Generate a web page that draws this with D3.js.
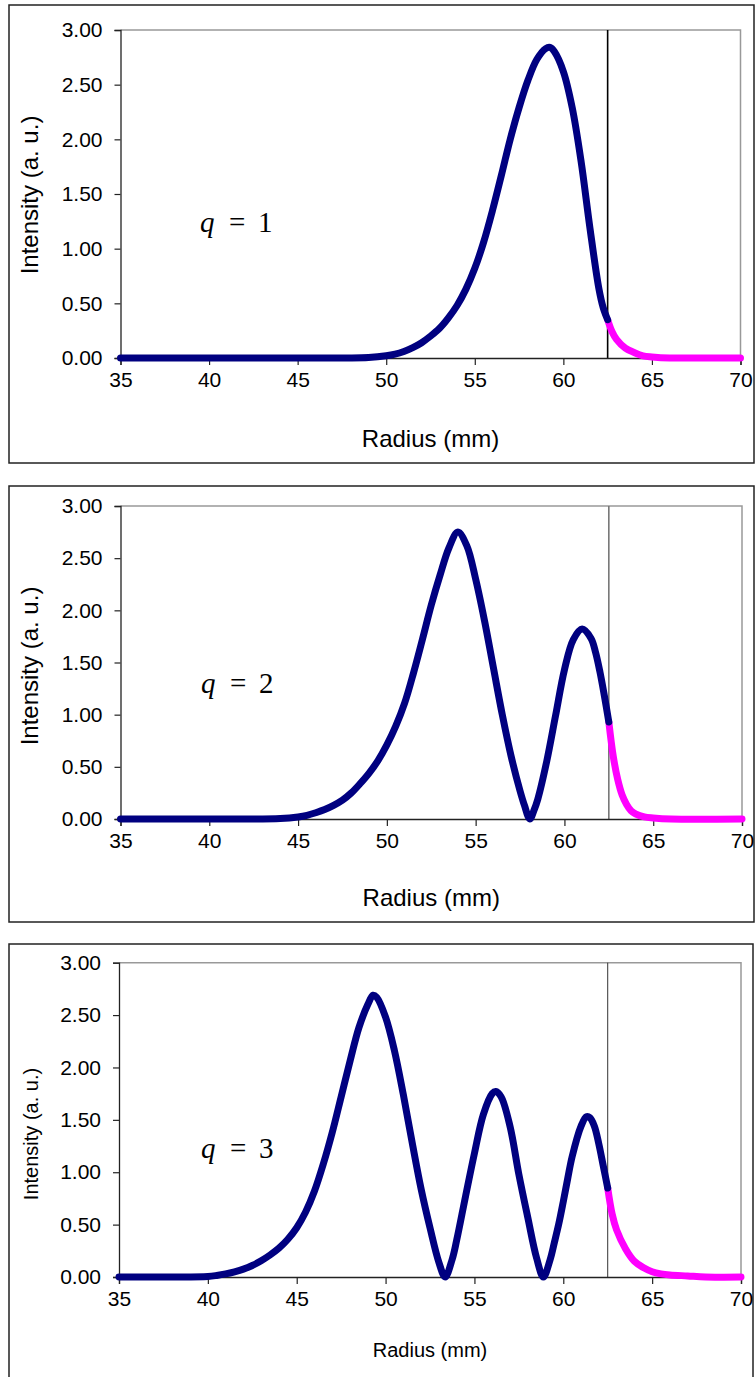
<!DOCTYPE html>
<html>
<head>
<meta charset="utf-8">
<script src="https://cdn.jsdelivr.net/npm/d3@7"></script>
<style>
  html, body { margin: 0; padding: 0; background: #fff; }
  svg { display: block; }
</style>
</head>
<body>
<svg id="chart" width="756" height="1377"></svg>
<script>
// ---------------- DATA ----------------
const xTicks = [35, 40, 45, 50, 55, 60, 65, 70];
const yTicks = [0, 0.5, 1, 1.5, 2, 2.5, 3];
const cutoffRadius = 62.5;
const qLabels = ["1", "2", "3"];

// q = 1
const radius1 = [35, 40, 45, 49, 50, 50.5, 51, 51.5, 52, 52.5, 53, 53.5, 54, 54.5, 55, 55.5, 56, 56.5, 57, 57.5, 58, 58.5, 59, 59.25, 59.5, 60, 60.5, 61, 61.5, 62, 62.25, 62.5];
const intensity1 = [0, 0, 0, 0.005, 0.02, 0.035, 0.06, 0.095, 0.14, 0.20, 0.27, 0.365, 0.48, 0.63, 0.82, 1.06, 1.35, 1.67, 2.00, 2.29, 2.54, 2.73, 2.83, 2.84, 2.80, 2.62, 2.29, 1.80, 1.19, 0.64, 0.46, 0.35];
const tailRadius1 = [62.5, 62.75, 63, 63.5, 64, 64.5, 65, 66, 67, 70];
const tailIntensity1 = [0.35, 0.24, 0.17, 0.09, 0.05, 0.02, 0.01, 0, 0, 0];

// q = 2
const radius2 = [35, 40, 44, 45, 45.5, 46, 46.5, 47, 47.5, 48, 48.5, 49, 49.5, 50, 50.5, 51, 51.5, 52, 52.5, 53, 53.5, 54, 54.5, 55, 55.5, 56, 56.5, 57, 57.5, 57.75, 58.05, 58.3, 58.5, 59, 59.5, 60, 60.5, 61, 61.5, 61.75, 62, 62.25, 62.5];
const intensity2 = [0, 0, 0.005, 0.02, 0.035, 0.06, 0.09, 0.13, 0.18, 0.25, 0.34, 0.44, 0.56, 0.71, 0.89, 1.11, 1.40, 1.72, 2.05, 2.34, 2.60, 2.75, 2.62, 2.30, 1.90, 1.45, 1.00, 0.60, 0.27, 0.13, 0.00, 0.09, 0.19, 0.55, 0.99, 1.43, 1.72, 1.82, 1.73, 1.60, 1.41, 1.18, 0.93];
const tailRadius2 = [62.5, 62.75, 63, 63.25, 63.5, 63.75, 64, 64.5, 65, 66, 70];
const tailIntensity2 = [0.93, 0.60, 0.38, 0.23, 0.14, 0.08, 0.05, 0.02, 0.01, 0, 0];

// q = 3
const radius3 = [35, 38, 40, 40.5, 41, 41.5, 42, 42.5, 43, 43.5, 44, 44.5, 45, 45.5, 46, 46.5, 47, 47.5, 48, 48.5, 49, 49.3, 49.5, 50, 50.5, 51, 51.5, 52, 52.5, 53, 53.35, 53.75, 54, 54.5, 55, 55.5, 56, 56.2, 56.5, 57, 57.5, 58, 58.5, 58.88, 59.25, 59.5, 59.75, 60, 60.25, 60.5, 61, 61.3, 61.5, 61.75, 62, 62.25, 62.5];
const intensity3 = [0, 0, 0.005, 0.015, 0.03, 0.05, 0.075, 0.11, 0.155, 0.21, 0.275, 0.36, 0.47, 0.62, 0.82, 1.08, 1.38, 1.72, 2.06, 2.38, 2.60, 2.69, 2.67, 2.48, 2.16, 1.74, 1.28, 0.84, 0.47, 0.14, 0.00, 0.17, 0.35, 0.77, 1.18, 1.55, 1.75, 1.77, 1.72, 1.44, 0.98, 0.57, 0.18, 0.00, 0.16, 0.33, 0.51, 0.72, 0.94, 1.15, 1.44, 1.53, 1.52, 1.44, 1.27, 1.06, 0.85];
const tailRadius3 = [62.5, 62.75, 63, 63.5, 64, 64.5, 65, 65.5, 66, 67, 68, 70];
const tailIntensity3 = [0.85, 0.60, 0.45, 0.27, 0.15, 0.09, 0.05, 0.03, 0.02, 0.01, 0, 0];

// ---------------- LAYOUT ----------------
const panels = [
  { box: [9, 5, 754, 463], l: 120.5, r: 740.5, t: 30, b: 358,
    radius: radius1, intensity: intensity1, tailR: tailRadius1, tailI: tailIntensity1,
    cutColor: "#000", cutWidth: 1.6, tickSize: 21, titleSize: 24, yTitleSize: 24,
    xTitleY: 447, yTitleX: 32, yTitleY: 195, qX: 200, qY: 232 },
  { box: [9, 486, 754, 922], l: 120.5, r: 742, t: 506, b: 819,
    radius: radius2, intensity: intensity2, tailR: tailRadius2, tailI: tailIntensity2,
    cutColor: "#777", cutWidth: 1.6, tickSize: 21, titleSize: 24, yTitleSize: 24,
    xTitleY: 906, yTitleX: 32, yTitleY: 666, qX: 201, qY: 693 },
  { box: [9, 944, 753, 1382], l: 119, r: 741, t: 962.7, b: 1277,
    radius: radius3, intensity: intensity3, tailR: tailRadius3, tailI: tailIntensity3,
    cutColor: "#333", cutWidth: 1, tickSize: 21, titleSize: 20, yTitleSize: 20,
    xTitleY: 1357, yTitleX: 33, yTitleY: 1134, qX: 201, qY: 1158 }
];

const svg = d3.select("#chart");
const fmt = d3.format(".2f");
const sans = "Liberation Sans, Arial, sans-serif";
const serif = "Liberation Serif, Times New Roman, serif";

panels.forEach((p, idx) => {
  const g = svg.append("g");
  // outer border
  g.append("rect")
    .attr("x", p.box[0]).attr("y", p.box[1])
    .attr("width", p.box[2] - p.box[0]).attr("height", p.box[3] - p.box[1])
    .attr("fill", "#fff").attr("stroke", "#222").attr("stroke-width", 1.5);

  const x = d3.scaleLinear().domain([35, 70]).range([p.l, p.r]);
  const y = d3.scaleLinear().domain([0, 3]).range([p.b, p.t]);

  // top & right plot frame (gray)
  g.append("path")
    .attr("d", `M${p.l},${p.t}H${p.r}V${p.b}`)
    .attr("fill", "none").attr("stroke", "#999").attr("stroke-width", 1.5);

  // cutoff vertical line
  g.append("line")
    .attr("x1", x(cutoffRadius)).attr("x2", x(cutoffRadius))
    .attr("y1", y(3)).attr("y2", y(0))
    .attr("stroke", p.cutColor).attr("stroke-width", p.cutWidth);

  // axes
  const xAxis = d3.axisBottom(x).tickValues(xTicks).tickSize(7).tickPadding(7).tickFormat(d3.format("d"));
  const yAxis = d3.axisLeft(y).tickValues(yTicks).tickSize(6).tickPadding(12).tickFormat(fmt);

  const gx = g.append("g").attr("transform", `translate(0,${p.b})`).call(xAxis);
  const gy = g.append("g").attr("transform", `translate(${p.l},0)`).call(yAxis);
  [gx, gy].forEach(a => {
    a.select(".domain").attr("stroke", "#222").attr("stroke-width", 1.3);
    a.selectAll(".tick line").attr("stroke", "#222").attr("stroke-width", 1.2);
    a.selectAll(".tick text").attr("fill", "#000")
      .style("font-family", sans).style("font-size", p.tickSize + "px");
  });

  // curves
  const line = d3.line().x(d => x(d[0])).y(d => y(d[1])).curve(d3.curveCatmullRom.alpha(0.5));
  const main = d3.zip(p.radius, p.intensity);
  const tail = d3.zip(p.tailR, p.tailI);

  g.append("path").datum(tail).attr("d", line)
    .attr("fill", "none").attr("stroke", "#ff00ff").attr("stroke-width", 7)
    .attr("stroke-linecap", "round").attr("stroke-linejoin", "round");
  g.append("path").datum(main).attr("d", line)
    .attr("fill", "none").attr("stroke", "#000080").attr("stroke-width", 7)
    .attr("stroke-linecap", "round").attr("stroke-linejoin", "round");

  // axis titles
  g.append("text")
    .attr("x", (p.l + p.r) / 2).attr("y", p.xTitleY)
    .attr("text-anchor", "middle")
    .style("font-family", sans).style("font-size", p.titleSize + "px")
    .text("Radius (mm)");
  g.append("text")
    .attr("transform", `translate(${p.yTitleX},${p.yTitleY}) rotate(-90)`)
    .attr("text-anchor", "middle").attr("dominant-baseline", "middle")
    .style("font-family", sans).style("font-size", p.yTitleSize + "px")
    .text("Intensity (a. u.)");

  // q label
  const qt = g.append("text").attr("y", p.qY)
    .style("font-family", serif).style("font-size", "29px");
  qt.append("tspan").attr("x", p.qX).style("font-style", "italic").text("q");
  qt.append("tspan").attr("x", p.qX + 29).text("=");
  qt.append("tspan").attr("x", p.qX + 58).text(qLabels[idx]);
});
</script>
</body>
</html>
